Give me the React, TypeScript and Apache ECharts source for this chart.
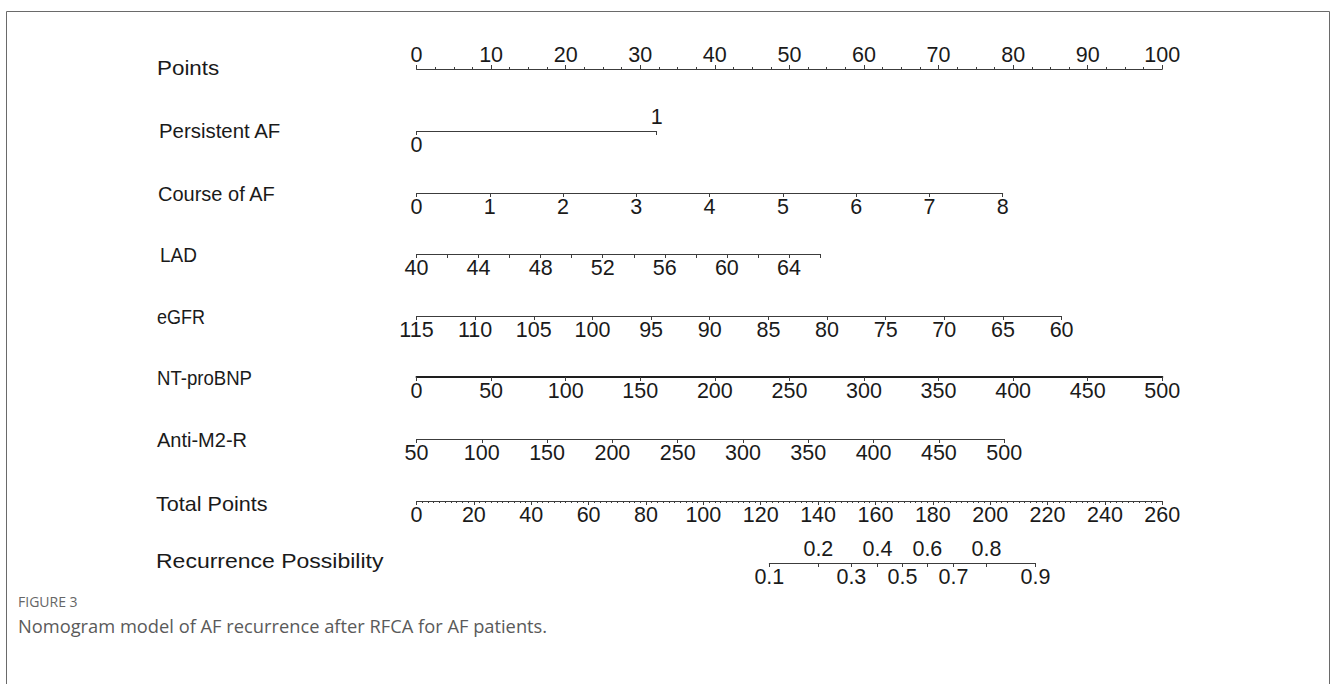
import React, { useEffect, useRef } from "react";
import * as echarts from "echarts";

// ---------------- data ----------------
const rowNames = [
  "Points",
  "Persistent AF",
  "Course of AF",
  "LAD",
  "eGFR",
  "NT-proBNP",
  "Anti-M2-R",
  "Total Points",
  "Recurrence Possibility",
];

// Points scale
const pointsRange = [0, 100];
const pointsInterval = 10;

// Persistent AF: level -> points
const persistentAFLevels = [0, 1];
const persistentAFPoints = [0, 32.2];

// Course of AF (years)
const courseOfAFRange = [0, 8];
const courseOfAFMaxPoints = 78.6;

// LAD (mm)
const ladRange = [40, 66];
const ladLabelStep = 4;
const ladMaxPoints = 54.1;

// eGFR (reversed: 115 -> 0 points, 60 -> max points)
const egfrRange = [60, 115];
const egfrMaxPoints = 86.5;

// NT-proBNP
const ntproBNPRange = [0, 500];
const ntproBNPMaxPoints = 100;

// Anti-M2-R
const antiM2RRange = [50, 500];
const antiM2RMaxPoints = 78.8;

// Total points
const totalPointsRange = [0, 260];

// Recurrence possibility vs total points
const recurrenceProbs = [0.1, 0.2, 0.3, 0.4, 0.5, 0.6, 0.7, 0.8, 0.9];
const recurrenceTotalPoints = [123.0, 140.1, 151.6, 160.7, 169.4, 178.1, 187.2, 198.7, 215.8];

// ---------------- layout ----------------
const LEFT = 416.5;
const PTS_WIDTH = 745.8;
const PX_PER_POINT = PTS_WIDTH / 100;
const PX_PER_TOTAL = PTS_WIDTH / 260;
const rowY = [69, 131, 193, 254, 316, 377, 439, 501, 563];
const labelX = [157, 159, 158, 160, 157, 157, 157, 156, 156];
const labelY = [68, 131, 194, 255, 317, 378, 440, 504, 561];
const labelStretch = [1.12, 1.02, 1.0, 0.95, 0.9, 0.93, 1.0, 1.08, 1.15];

const FONT = "'Liberation Sans', Arial, Helvetica, sans-serif";
const LINE = "#3c3c3c";
const TXT = "#1a1a1a";
const TICK_FONT = 21.5;
const LABEL_FONT = 20;

function axisBase(gridIndex: number, min: number, max: number, interval: number, extra: any = {}) {
  const base: any = {
    type: "value",
    gridIndex,
    min,
    max,
    interval,
    position: "bottom",
    axisLine: { show: true, onZero: false, lineStyle: { color: LINE, width: 1 } },
    axisTick: { show: true, length: 4, inside: false, lineStyle: { color: LINE, width: 1 } },
    axisLabel: {
      show: true,
      margin: 3,
      color: TXT,
      fontFamily: FONT,
      fontSize: TICK_FONT,
      showMinLabel: true,
      showMaxLabel: true,
      hideOverlap: false,
    },
    splitLine: { show: false },
    minorSplitLine: { show: false },
  };
  for (const k of Object.keys(extra)) {
    if (typeof extra[k] === "object" && !Array.isArray(extra[k]) && base[k]) {
      base[k] = { ...base[k], ...extra[k] };
    } else {
      base[k] = extra[k];
    }
  }
  return base;
}

function probLabel(v: number) {
  for (let i = 0; i < recurrenceTotalPoints.length; i++) {
    if (Math.abs(recurrenceTotalPoints[i] - v) < 1e-6) return recurrenceProbs[i].toFixed(1);
  }
  return "";
}

function buildOption() {
  const grid: any[] = [];
  const xAxis: any[] = [];
  const yAxis: any[] = [];

  const addGrid = (row: number, startPx: number, widthPx: number) => {
    grid.push({ left: startPx, top: rowY[row], width: widthPx, height: 0, containLabel: false });
    yAxis.push({ type: "value", gridIndex: grid.length - 1, show: false, min: 0, max: 1 });
    return grid.length - 1;
  };

  // Points
  let g = addGrid(0, LEFT, PTS_WIDTH);
  xAxis.push(
    axisBase(g, pointsRange[0], pointsRange[1], pointsInterval, {
      position: "top",
      minorTick: { show: true, splitNumber: 4, length: 2, lineStyle: { color: LINE, width: 1 } },
    })
  );

  // Persistent AF
  g = addGrid(1, LEFT, persistentAFPoints[1] * PX_PER_POINT);
  xAxis.push(
    axisBase(g, persistentAFLevels[0], persistentAFLevels[1], 1, {
      axisLabel: { formatter: (v: number) => (v === persistentAFLevels[0] ? String(v) : "") },
    })
  );
  xAxis.push(
    axisBase(g, persistentAFLevels[0], persistentAFLevels[1], 1, {
      position: "top",
      axisLine: { show: false },
      axisTick: { show: false },
      axisLabel: { formatter: (v: number) => (v === persistentAFLevels[1] ? String(v) : "") },
    })
  );

  // Course of AF
  g = addGrid(2, LEFT, courseOfAFMaxPoints * PX_PER_POINT);
  xAxis.push(axisBase(g, courseOfAFRange[0], courseOfAFRange[1], 1));

  // LAD
  g = addGrid(3, LEFT, ladMaxPoints * PX_PER_POINT);
  xAxis.push(
    axisBase(g, ladRange[0], ladRange[1], 2, {
      axisLabel: {
        formatter: (v: number) => ((v - ladRange[0]) % ladLabelStep === 0 && v < ladRange[1] ? String(v) : ""),
      },
    })
  );

  // eGFR (reversed)
  g = addGrid(4, LEFT, egfrMaxPoints * PX_PER_POINT);
  xAxis.push(axisBase(g, egfrRange[0], egfrRange[1], 5, { inverse: true }));

  // NT-proBNP
  g = addGrid(5, LEFT, ntproBNPMaxPoints * PX_PER_POINT);
  xAxis.push(
    axisBase(g, ntproBNPRange[0], ntproBNPRange[1], 50, {
      axisLine: { lineStyle: { color: "#1e1e1e", width: 2 } },
    })
  );

  // Anti-M2-R
  g = addGrid(6, LEFT, antiM2RMaxPoints * PX_PER_POINT);
  xAxis.push(axisBase(g, antiM2RRange[0], antiM2RRange[1], 50));

  // Total points
  g = addGrid(7, LEFT, PTS_WIDTH);
  xAxis.push(
    axisBase(g, totalPointsRange[0], totalPointsRange[1], 20, {
      minorTick: { show: true, splitNumber: 10, length: 2, lineStyle: { color: LINE, width: 1 } },
    })
  );

  // Recurrence possibility
  const rStart = recurrenceTotalPoints[0];
  const rEnd = recurrenceTotalPoints[recurrenceTotalPoints.length - 1];
  g = addGrid(8, LEFT + rStart * PX_PER_TOTAL, (rEnd - rStart) * PX_PER_TOTAL);
  const lower = recurrenceTotalPoints.filter((_, i) => i % 2 === 0);
  const upper = recurrenceTotalPoints.filter((_, i) => i % 2 === 1);
  xAxis.push(
    axisBase(g, rStart, rEnd, 10, {
      axisTick: { customValues: recurrenceTotalPoints },
      axisLabel: { customValues: lower, formatter: (v: number) => probLabel(v) },
    })
  );
  xAxis.push(
    axisBase(g, rStart, rEnd, 10, {
      position: "top",
      axisLine: { show: false },
      axisTick: { show: false },
      axisLabel: { customValues: upper, formatter: (v: number) => probLabel(v) },
    })
  );

  const graphic: any[] = [
    {
      type: "rect",
      shape: { x: 6.5, y: 11.5, width: 1323, height: 720 },
      style: { fill: "none", stroke: "#6a6a6a", lineWidth: 1 },
      silent: true,
    },
    ...rowNames.map((name, i) => ({
      type: "text",
      x: labelX[i],
      y: labelY[i],
      scaleX: labelStretch[i],
      style: {
        text: name,
        fill: TXT,
        font: `${LABEL_FONT}px ${FONT}`,
        textVerticalAlign: "middle",
        verticalAlign: "middle",
        textAlign: "left",
        align: "left",
      },
    })),
    {
      type: "text",
      x: 18,
      y: 601,
      style: {
        text: "FIGURE 3",
        fill: "#666666",
        font: `14px 'Open Sans', 'Noto Sans', sans-serif`,
        verticalAlign: "middle",
        textVerticalAlign: "middle",
      },
    },
    {
      type: "text",
      x: 18,
      y: 625,
      style: {
        text: "Nomogram model of AF recurrence after RFCA for AF patients.",
        fill: "#5a5a5a",
        font: `18.3px 'Open Sans', 'Noto Sans', sans-serif`,
        verticalAlign: "middle",
        textVerticalAlign: "middle",
      },
    },
  ];

  return {
    animation: false,
    backgroundColor: "#ffffff",
    grid,
    xAxis,
    yAxis,
    series: [],
    graphic,
  };
}

export default function App() {
  const ref = useRef<HTMLDivElement>(null);
  useEffect(() => {
    if (!ref.current) return;
    const chart = echarts.init(ref.current, undefined, { renderer: "svg" });
    chart.setOption(buildOption() as any);
    return () => chart.dispose();
  }, []);
  return (
    <div
      ref={ref}
      style={{ position: "fixed", left: 0, top: 0, width: 1330, height: 684, background: "#fff" }}
    />
  );
}
